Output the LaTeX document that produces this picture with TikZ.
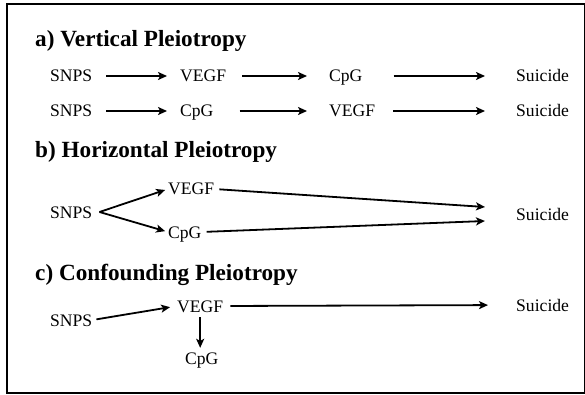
\documentclass[tikz,border=0pt]{standalone}
\usepackage{fontspec}
\setmainfont{Liberation Serif}
\usetikzlibrary{arrows.meta,calc}
\begin{document}
\begin{tikzpicture}[x=1pt,y=-1pt,
  lbl/.style={anchor=base west,inner sep=0pt,text height=12pt,text depth=0pt,font=\fontsize{17.6}{20}\selectfont},
  ttl/.style={anchor=base west,inner sep=0pt,font=\fontsize{23.2}{26}\selectfont\bfseries},
  arr/.style={line width=1.8pt,-{Stealth[length=9pt,width=8pt,inset=2.2pt]}},
  frame/.style={line width=2pt}]
\useasboundingbox (0,0) rectangle (585,395);
\draw[frame] (7,4) -- (585,4) -- (585,393) -- (7,393) -- cycle;
% titles
\node[ttl] (ta) at (35,47) {a) Vertical Pleiotropy};
\node[ttl] (tb) at (35,158) {b) Horizontal Pleiotropy};
\node[ttl] (tc) at (35,280) {c) Confounding Pleiotropy};
% row a1
\node[lbl] (s1) at (50,82) {SNPS};
\node[lbl] (v1) at (180,82) {VEGF};
\node[lbl] (c1) at (329,82) {CpG};
\node[lbl] (u1) at (516,82) {Suicide};
\draw[arr,shorten <=14pt,shorten >=13pt] (s1.east) -- (v1.west);
\draw[arr,shorten <=16pt,shorten >=22pt] (v1.east) -- (c1.west);
\draw[arr,shorten <=31pt,shorten >=31pt] (c1.east) -- (u1.west);
% row a2
\node[lbl] (s2) at (50,117) {SNPS};
\node[lbl] (c2) at (180,117) {CpG};
\node[lbl] (v2) at (329,117) {VEGF};
\node[lbl] (u2) at (516,117) {Suicide};
\draw[arr,shorten <=14pt,shorten >=13pt] (s2.east) -- (c2.west);
\draw[arr,shorten <=26pt,shorten >=22pt] (c2.east) -- (v2.west);
\draw[arr,shorten <=18pt,shorten >=31pt] (v2.east) -- (u2.west);
% b
\node[lbl] (sb) at (50,218) {SNPS};
\node[lbl] (vb) at (168,195) {VEGF};
\node[lbl] (cb) at (168,238) {CpG};
\node[lbl] (ub) at (516,220) {Suicide};
\coordinate (fork) at ($(sb.east)+(7,0)$);
\coordinate (ub1) at ($(ub.west)+(-31,-7)$);
\coordinate (ub2) at ($(ub.west)+(-31,7)$);
\draw[arr,shorten >=3pt] (fork) -- (vb.west);
\draw[arr,shorten >=3pt] (fork) -- (cb.west);
\draw[arr,shorten <=5pt] (vb.east) -- (ub1);
\draw[arr,shorten <=5pt] (cb.east) -- (ub2);
% c
\node[lbl] (vc) at (177,312) {VEGF};
\node[lbl] (sc) at (50,326) {SNPS};
\node[lbl] (cc) at (185,364) {CpG};
\node[lbl] (uc) at (516,311) {Suicide};
\draw[arr,shorten <=4pt,shorten >=7pt] (sc.east) -- (vc.west);
\draw[arr,shorten <=7pt,shorten >=28pt] (vc.east) -- (uc.west);
\draw[arr,shorten <=5pt,shorten >=4pt] (vc.south) -- (vc.south |- cc.north);
\end{tikzpicture}
\end{document}
